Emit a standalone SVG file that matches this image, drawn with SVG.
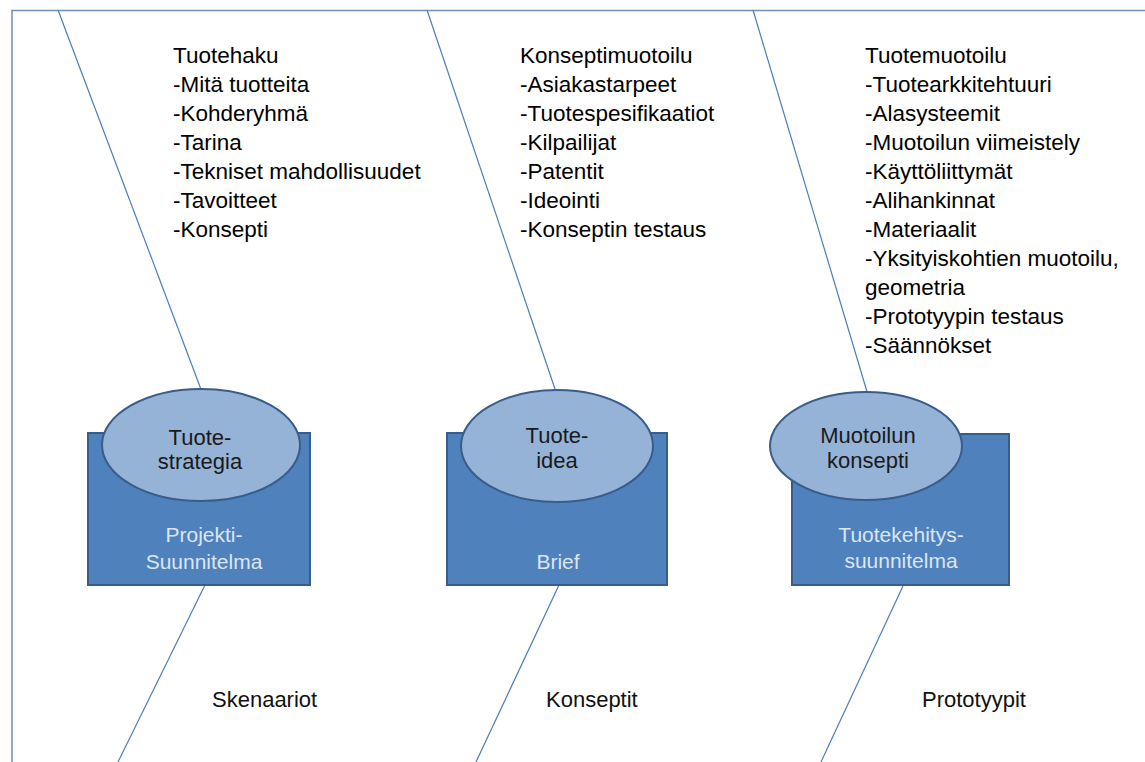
<svg xmlns="http://www.w3.org/2000/svg" width="1145" height="762" viewBox="0 0 1145 762">
<style>
.list{font-family:"Liberation Sans",Arial,sans-serif;font-size:22.5px;fill:#000}
.lbl{font-family:"Liberation Sans",Arial,sans-serif;font-size:22px;fill:#111}
.box{fill:#4F81BD;stroke:#385D8A;stroke-width:2}
.ell{fill:#95B3D7;stroke:#385D8A;stroke-width:2}
.et{font-family:"Liberation Sans",Arial,sans-serif;font-size:22px;fill:#1a1a1a;text-anchor:middle}
.bt{font-family:"Liberation Sans",Arial,sans-serif;font-size:21px;fill:#DCE6F2;text-anchor:middle}
.ln{stroke:#4A7EBB;stroke-width:1.2;fill:none}
</style>
<rect width="1145" height="762" fill="#fff"/>
<path d="M12,762 V10.5 H1145" fill="none" stroke="#6F8FB5" stroke-width="1.5"/>
<g id="connectors">
<line class="ln" x1="58" y1="10" x2="202" y2="392"/>
<line class="ln" x1="427" y1="10" x2="556" y2="392"/>
<line class="ln" x1="753" y1="10" x2="868" y2="395"/>
<line class="ln" x1="205" y1="585" x2="118" y2="762"/>
<line class="ln" x1="559" y1="585" x2="476" y2="762"/>
<line class="ln" x1="903" y1="586" x2="821" y2="762"/>
</g>
<g id="list1">
<text class="list" x="173" y="63">Tuotehaku</text>
<text class="list" x="173" y="92">-Mitä tuotteita</text>
<text class="list" x="173" y="121">-Kohderyhmä</text>
<text class="list" x="173" y="150">-Tarina</text>
<text class="list" x="173" y="179">-Tekniset mahdollisuudet</text>
<text class="list" x="173" y="208">-Tavoitteet</text>
<text class="list" x="173" y="237">-Konsepti</text>
</g>
<g id="list2">
<text class="list" x="520" y="63">Konseptimuotoilu</text>
<text class="list" x="520" y="92">-Asiakastarpeet</text>
<text class="list" x="520" y="121">-Tuotespesifikaatiot</text>
<text class="list" x="520" y="150">-Kilpailijat</text>
<text class="list" x="520" y="179">-Patentit</text>
<text class="list" x="520" y="208">-Ideointi</text>
<text class="list" x="520" y="237">-Konseptin testaus</text>
</g>
<g id="list3">
<text class="list" x="865" y="63">Tuotemuotoilu</text>
<text class="list" x="865" y="92">-Tuotearkkitehtuuri</text>
<text class="list" x="865" y="121">-Alasysteemit</text>
<text class="list" x="865" y="150">-Muotoilun viimeistely</text>
<text class="list" x="865" y="179">-Käyttöliittymät</text>
<text class="list" x="865" y="208">-Alihankinnat</text>
<text class="list" x="865" y="237">-Materiaalit</text>
<text class="list" x="865" y="266">-Yksityiskohtien muotoilu,</text>
<text class="list" x="865" y="295">geometria</text>
<text class="list" x="865" y="324">-Prototyypin testaus</text>
<text class="list" x="865" y="353">-Säännökset</text>
</g>
<g id="node1">
<rect class="box" x="88" y="433" width="222" height="152"/>
<ellipse class="ell" cx="201" cy="445" rx="99" ry="56"/>
<text class="et" x="200" y="445">Tuote-</text>
<text class="et" x="200" y="469">strategia</text>
<text class="bt" x="204" y="542">Projekti-</text>
<text class="bt" x="204" y="569">Suunnitelma</text>
</g>
<g id="node2">
<rect class="box" x="447" y="433" width="220" height="152"/>
<ellipse class="ell" cx="557" cy="446" rx="96" ry="56"/>
<text class="et" x="557" y="443">Tuote-</text>
<text class="et" x="557" y="468">idea</text>
<text class="bt" x="558" y="569">Brief</text>
</g>
<g id="node3">
<rect class="box" x="792" y="434" width="217" height="151"/>
<ellipse class="ell" cx="866" cy="446" rx="96" ry="54"/>
<text class="et" x="868" y="443">Muotoilun</text>
<text class="et" x="868" y="468">konsepti</text>
<text class="bt" x="901" y="542">Tuotekehitys-</text>
<text class="bt" x="901" y="568">suunnitelma</text>
</g>
<g id="labels">
<text class="lbl" x="212" y="707">Skenaariot</text>
<text class="lbl" x="546" y="707">Konseptit</text>
<text class="lbl" x="922" y="707">Prototyypit</text>
</g>
</svg>
